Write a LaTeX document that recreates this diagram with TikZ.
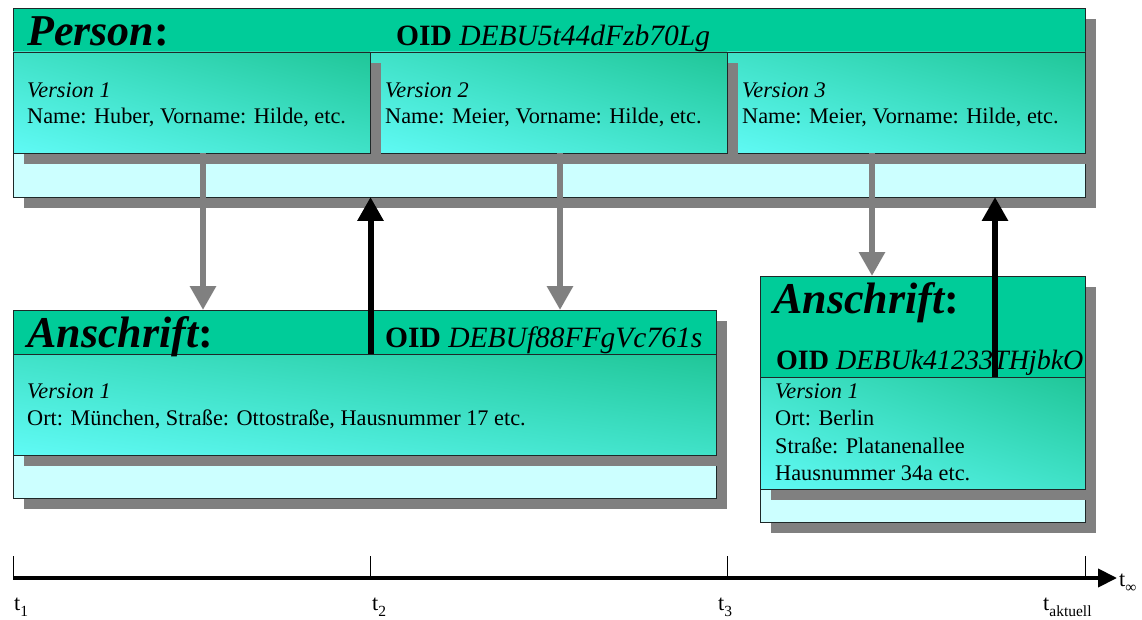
\documentclass[tikz,border=0pt]{standalone}
\usepackage{fontspec}
\setmainfont{Liberation Serif}
\usetikzlibrary{arrows.meta,shadows,shadings}
\definecolor{headgreen}{RGB}{0,204,153}
\definecolor{pale}{RGB}{204,255,255}
\definecolor{shgrey}{RGB}{128,128,128}
\definecolor{gradA}{RGB}{96,250,245}
\definecolor{gradB}{RGB}{32,198,152}
\definecolor{gradM}{RGB}{64,226,200}
\definecolor{edge}{RGB}{30,40,40}
\newcommand{\tsub}[1]{\raisebox{-6.5pt}{\fontsize{15.5}{16}\selectfont #1}}
\tikzset{
 box/.style={anchor=north west, inner sep=0pt, outer sep=0pt, draw=edge, line width=0.9pt},
 hardshadow/.style={general shadow={shadow xshift=11pt, shadow yshift=-11pt, fill=shgrey, draw=none}},
 outerbox/.style={box, fill=pale, hardshadow},
 headbox/.style={box, fill=headgreen},
 verbox/.style={box, hardshadow, lower left=gradA, upper right=gradB, upper left=gradM, lower right=gradM},
 txt/.style={anchor=base west, inner sep=0pt, font=\fontsize{22.3}{26}\selectfont},
 titletxt/.style={anchor=base west, inner sep=0pt, font=\fontsize{44}{46}\selectfont\bfseries},
 oidtxt/.style={anchor=base west, inner sep=0pt, font=\fontsize{29.5}{30}\selectfont},
 greyarrow/.style={draw=shgrey, line width=6pt, -{Triangle[width=25pt,length=24pt]}},
 blackarrow/.style={draw=black, line width=6pt, -{Triangle[width=25pt,length=24pt]}},
 timeaxis/.style={draw=black, line width=4pt, -{Triangle[width=18pt,length=19pt]}},
 tickline/.style={draw=black, line width=1pt},
}
\begin{document}
\begin{tikzpicture}[x=1pt,y=-1pt]
\useasboundingbox (0,0) rectangle (1142,620);
% ---------- Person ----------
\node[outerbox, minimum width=1072pt, minimum height=189pt] (pers) at (13,8) {};
\node[headbox, minimum width=1072pt, minimum height=44pt] (persh) at (13,8) {};
\node[verbox, minimum width=358pt, minimum height=101pt] (v3) at (727,52) {};
\node[verbox, minimum width=357pt, minimum height=101pt] (v2) at (370,52) {};
\node[verbox, minimum width=357pt, minimum height=101pt] (v1) at (13,52) {};
\node[titletxt] (perst) at (27,46) {\itshape Person\upshape:};
\node[oidtxt] (persoid) at (396,46) {\textbf{OID} \textit{DEBU5t44dFzb70Lg}};
\node[txt] (v1a) at (27,98) {\textit{Version 1}};
\node[txt] (v1b) at (27,124) {Name: Huber, Vorname: Hilde, etc.};
\node[txt] (v2a) at (385,98) {\textit{Version 2}};
\node[txt] (v2b) at (385,124) {Name: Meier, Vorname: Hilde, etc.};
\node[txt] (v3a) at (742,98) {\textit{Version 3}};
\node[txt] (v3b) at (742,124) {Name: Meier, Vorname: Hilde, etc.};
% ---------- Anschrift 1 ----------
\node[outerbox, minimum width=703pt, minimum height=188pt] (an1) at (13,310) {};
\node[headbox, minimum width=703pt, minimum height=44pt] (an1h) at (13,310) {};
\node[verbox, minimum width=703pt, minimum height=101pt] (an1v) at (13,354) {};
\node[titletxt] (an1t) at (27,347) {\itshape Anschrift\upshape:};
\node[oidtxt] (an1oid) at (385,347) {\textbf{OID} \textit{DEBUf88FFgVc761s}};
\node[txt] (an1a) at (27,398) {\textit{Version 1}};
\node[txt] (an1b) at (27,425) {Ort: München, Straße: Ottostraße, Hausnummer 17 etc.};
% ---------- Anschrift 2 ----------
\node[outerbox, minimum width=325pt, minimum height=246pt] (an2) at (760,276) {};
\node[headbox, minimum width=325pt, minimum height=101pt] (an2h) at (760,276) {};
\node[verbox, minimum width=325pt, minimum height=112pt] (an2v) at (760,377) {};
\node[titletxt] (an2t) at (773,313) {\itshape Anschrift\upshape:};
\node[oidtxt, font=\fontsize{28}{30}\selectfont] (an2oid) at (776,369) {\textbf{OID} \textit{DEBUk41233THjbkO}};
\node[txt] (an2a) at (775,398) {\textit{Version 1}};
\node[txt] (an2b) at (775,425) {Ort: Berlin};
\node[txt] (an2c) at (775,453) {Straße: Platanenallee};
\node[txt] (an2d) at (775,480) {Hausnummer 34a etc.};
% ---------- arrows ----------
\draw[greyarrow] ([xshift=190pt]v1.south west) -- ([xshift=190pt]an1.north west);
\draw[greyarrow] ([xshift=190pt]v2.south west) -- ([xshift=547pt]an1.north west);
\draw[greyarrow] ([xshift=145pt]v3.south west) -- ([xshift=112pt]an2.north west);
\draw[blackarrow] ([xshift=357.5pt]an1h.south west) -- ([xshift=357.5pt]pers.south west);
\draw[blackarrow] ([xshift=235pt]an2h.south west) -- ([xshift=982pt]pers.south west);
% ---------- time axis ----------
\coordinate (T1) at (13,578);
\coordinate (T2) at (370,578);
\coordinate (T3) at (727,578);
\coordinate (T4) at (1085,578);
\coordinate (Tend) at (1117,578);
\draw[timeaxis] (T1) -- (Tend);
\draw[tickline] (T1) -- ([yshift=22pt]T1);
\draw[tickline] (T2) -- ([yshift=22pt]T2);
\draw[tickline] (T3) -- ([yshift=22pt]T3);
\draw[tickline] (T4) -- ([yshift=22pt]T4);
\node[txt] (l1) at (14,610) {t\tsub{1}};
\node[txt] (l2) at (372,610) {t\tsub{2}};
\node[txt] (l3) at (718,610) {t\tsub{3}};
\node[txt] (l4) at (1043,610) {t\tsub{aktuell}};
\node[txt] (l5) at (1119,586) {t\tsub{∞}};
\end{tikzpicture}
\end{document}
